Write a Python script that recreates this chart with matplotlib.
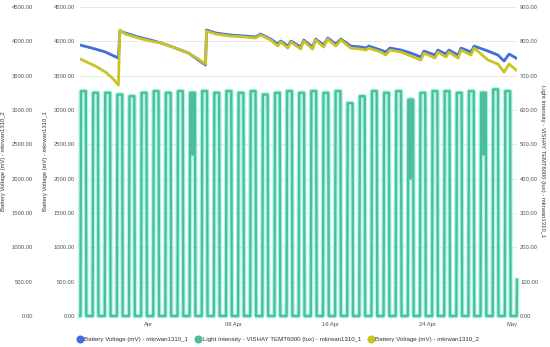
import matplotlib
matplotlib.use("Agg")
import matplotlib.pyplot as plt
from matplotlib.lines import Line2D
import pandas as pd
import numpy as np

plt.rcParams["font.family"] = ["Liberation Sans", "DejaVu Sans"]

# ---------------- data ----------------
batt1_times = ["2024-03-26 09:00", "2024-03-27 15:00", "2024-03-28 11:00", "2024-03-29 12:30",
               "2024-03-29 15:30", "2024-03-30 02:20", "2024-03-31 04:00", "2024-04-01 04:00",
               "2024-04-02 01:40", "2024-04-03 05:30", "2024-04-04 07:30", "2024-04-05 03:00",
               "2024-04-05 17:00", "2024-04-05 19:00", "2024-04-06 13:00", "2024-04-07 18:40",
               "2024-04-09 00:30", "2024-04-09 20:00", "2024-04-10 06:00", "2024-04-11 02:00",
               "2024-04-11 16:00", "2024-04-11 22:00", "2024-04-12 12:00", "2024-04-12 18:00",
               "2024-04-13 13:30", "2024-04-13 19:30", "2024-04-14 13:00", "2024-04-14 19:00",
               "2024-04-15 11:00", "2024-04-15 19:00", "2024-04-16 10:50", "2024-04-16 21:00",
               "2024-04-17 16:30", "2024-04-18 12:30", "2024-04-18 22:20", "2024-04-19 04:20",
               "2024-04-20 04:00", "2024-04-20 14:00", "2024-04-20 22:00", "2024-04-21 20:00",
               "2024-04-22 15:40", "2024-04-23 11:30", "2024-04-23 17:30", "2024-04-24 15:20",
               "2024-04-24 21:00", "2024-04-25 13:00", "2024-04-25 19:00", "2024-04-26 13:00",
               "2024-04-26 19:00", "2024-04-27 14:40", "2024-04-27 20:40", "2024-04-29 00:30",
               "2024-04-29 20:00", "2024-04-30 08:00", "2024-04-30 18:00", "2024-05-01 08:00"]
batt1_mv = [3946, 3888, 3844, 3756,
            4150, 4121, 4063, 4019,
            3975, 3902, 3829, 3727,
            3654, 4165, 4121, 4092,
            4077, 4063, 4106, 4033,
            3960, 4004, 3931, 4004,
            3917, 4019, 3917, 4033,
            3946, 4048, 3960, 4033,
            3931, 3917, 3902, 3931,
            3873, 3844, 3902, 3873,
            3829, 3771, 3858, 3800,
            3873, 3815, 3873, 3800,
            3902, 3844, 3931, 3858,
            3800, 3713, 3815, 3756]

batt2_times = ["2024-03-26 09:00", "2024-03-27 15:00", "2024-03-28 11:00", "2024-03-29 00:30",
               "2024-03-29 12:30", "2024-03-29 15:30", "2024-03-30 02:20", "2024-03-31 04:00",
               "2024-04-01 04:00", "2024-04-02 01:40", "2024-04-03 05:30", "2024-04-04 07:30",
               "2024-04-05 03:00", "2024-04-05 17:00", "2024-04-05 19:00", "2024-04-06 13:00",
               "2024-04-07 18:40", "2024-04-09 00:30", "2024-04-09 20:00", "2024-04-10 06:00",
               "2024-04-11 02:00", "2024-04-11 16:00", "2024-04-11 22:00", "2024-04-12 12:00",
               "2024-04-12 18:00", "2024-04-13 13:30", "2024-04-13 19:30", "2024-04-14 13:00",
               "2024-04-14 19:00", "2024-04-15 11:00", "2024-04-15 19:00", "2024-04-16 10:50",
               "2024-04-16 21:00", "2024-04-17 16:30", "2024-04-18 12:30", "2024-04-18 22:20",
               "2024-04-19 04:20", "2024-04-20 04:00", "2024-04-20 14:00", "2024-04-20 22:00",
               "2024-04-21 20:00", "2024-04-22 15:40", "2024-04-23 11:30", "2024-04-23 17:30",
               "2024-04-24 15:20", "2024-04-24 21:00", "2024-04-25 13:00", "2024-04-25 19:00",
               "2024-04-26 13:00", "2024-04-26 19:00", "2024-04-27 14:40", "2024-04-27 20:40",
               "2024-04-29 00:30", "2024-04-29 20:00", "2024-04-30 08:00", "2024-04-30 18:00",
               "2024-05-01 08:00"]
batt2_mv = [3742, 3640, 3552, 3465,
            3363, 4165, 4106, 4048,
            4004, 3975, 3902, 3829,
            3742, 3669, 4150, 4106,
            4077, 4063, 4048, 4092,
            4019, 3931, 3990, 3902,
            3990, 3888, 4004, 3888,
            4019, 3917, 4033, 3931,
            4019, 3902, 3888, 3873,
            3902, 3844, 3800, 3873,
            3844, 3786, 3727, 3829,
            3756, 3844, 3771, 3844,
            3756, 3873, 3800, 3902,
            3727, 3669, 3552, 3669,
            3581]

# daily light intensity (lux): one plateau per day
light_days = pd.date_range("2024-03-26", "2024-04-30", freq="D")
light_peak = [655, 650, 650, 645, 640, 650,
              655, 650, 655, 650, 655, 650, 655, 650, 655, 645,
              650, 655, 650, 655, 650, 655, 620, 640, 655, 650,
              655, 630, 650, 655, 655, 650, 655, 650, 660, 655]
light_on, light_off, light_ramp_h = 9.5, 21.0, 1.0
light_dips = {"2024-04-04": 470, "2024-04-22": 400, "2024-04-28": 470}
light_start = ("2024-03-26 08:30", 0)
light_end = [("2024-05-01 09:00", 0), ("2024-05-01 09:40", 105)]

xtick_dates = ["2024-04-01", "2024-04-08", "2024-04-16", "2024-04-24", "2024-05-01"]
xtick_labels = ["Apr", "08 Apr", "16 Apr", "24 Apr", "May"]

# build light trace from the daily readings
lt = [pd.Timestamp(light_start[0])]
lv = [light_start[1]]
for day, pk in zip(light_days, light_peak):
    pts = [(light_on, 0), (light_on + light_ramp_h, pk)]
    key = day.strftime("%Y-%m-%d")
    if key in light_dips:
        mid = (light_on + light_off) / 2
        pts += [(mid - 0.2, pk), (mid, light_dips[key]), (mid + 0.2, pk)]
    pts += [(light_off - light_ramp_h, pk), (light_off, 0)]
    for h, v in pts:
        lt.append(day + pd.Timedelta(hours=h))
        lv.append(v)
for t, v in light_end:
    lt.append(pd.Timestamp(t))
    lv.append(v)

t1 = pd.to_datetime(batt1_times)
t2 = pd.to_datetime(batt2_times)

# ---------------- figure ----------------
W, H = 550, 347
FS = 4.2
fig = plt.figure(figsize=(W / 100, H / 100), dpi=100)
ax_l = fig.add_axes([80 / W, 31 / H, 437 / W, 309 / H])  # light axis (drawn lowest)
ax_b1 = ax_l.twinx()
ax_b2 = ax_l.twinx()
ax_l.yaxis.tick_right()
ax_l.yaxis.set_label_position("right")
ax_b1.yaxis.tick_left()
ax_b1.yaxis.set_label_position("left")
ax_b2.yaxis.tick_left()
ax_b2.yaxis.set_label_position("left")
ax_b2.spines["left"].set_position(("outward", 42 * 72 / 100))

ax_l.set_zorder(1)
ax_b1.set_zorder(2)
ax_b2.set_zorder(3)
ax_b1.patch.set_visible(False)
ax_b2.patch.set_visible(False)

teal = "#4bbf9d"
halo = "#b0f5e4"
blue = "#3f6de2"
yellow = "#cbc226"

ax_l.set_axisbelow(True)
ax_l.yaxis.grid(True, color="#e8e8e8", lw=0.7)
ax_l.plot(lt, lv, color=halo, lw=3.4, solid_joinstyle="round", clip_on=False, zorder=2)
ax_l.plot(lt, lv, color=teal, lw=1.7, solid_joinstyle="round", clip_on=False, zorder=3)
ax_b1.plot(t1, batt1_mv, color=blue, lw=2.0, solid_joinstyle="round")
ax_b2.plot(t2, batt2_mv, color=yellow, lw=2.0, solid_joinstyle="round")

ax_l.set_ylim(0, 900)
ax_l.set_yticks(np.arange(0, 901, 100))
for a in (ax_b1, ax_b2):
    a.set_ylim(0, 4500)
    a.set_yticks(np.arange(0, 4501, 500))

xmin = min(lt[0], t1[0])
xmax = max(lt[-1], t1[-1])
ax_l.set_xlim(xmin, xmax)
ax_l.set_xticks(pd.to_datetime(xtick_dates))
ax_l.set_xticklabels(xtick_labels)

fmt = matplotlib.ticker.FormatStrFormatter("%.2f")
for a in (ax_l, ax_b1, ax_b2):
    a.yaxis.set_major_formatter(fmt)
    for s in a.spines.values():
        s.set_visible(False)
    a.tick_params(axis="both", length=0, labelsize=FS, labelcolor="#555555", pad=3.6)
ax_l.tick_params(axis="y", pad=2.2)
ax_l.tick_params(axis="x", pad=4.5)

ax_b1.set_ylabel("Battery Voltage (mV) - mkrwan1310_1", fontsize=FS, color="#333333")
ax_b1.yaxis.set_label_coords((48 - 80) / 437, 0.5)
ax_b2.set_ylabel("Battery Voltage (mV) - mkrwan1310_2", fontsize=FS, color="#333333")
ax_b2.yaxis.set_label_coords((6 - 80) / 437, 0.5)
ax_l.set_ylabel("Light Intensity - VISHAY TEMT6000 (lux) - mkrwan1310_1", fontsize=FS,
                color="#333333", rotation=-90, va="center")
ax_l.yaxis.set_label_coords((543 - 80) / 437, 0.5)

handles = [Line2D([], [], ls="none", marker="o", ms=4.8, color=blue),
           Line2D([], [], ls="none", marker="o", ms=4.8, color=teal),
           Line2D([], [], ls="none", marker="o", ms=4.8, color=yellow)]
labels = ["Battery Voltage (mV) - mkrwan1310_1",
          "Light Intensity - VISHAY TEMT6000 (lux) - mkrwan1310_1",
          "Battery Voltage (mV) - mkrwan1310_2"]
leg = fig.legend(handles, labels, loc="center", bbox_to_anchor=(278 / W, 8 / H), ncol=3,
                 frameon=False, fontsize=4.45, handletextpad=0.2, columnspacing=1.1,
                 handlelength=1.0)
for t in leg.get_texts():
    t.set_color("#333333")

fig.savefig("out.png", dpi=100)
